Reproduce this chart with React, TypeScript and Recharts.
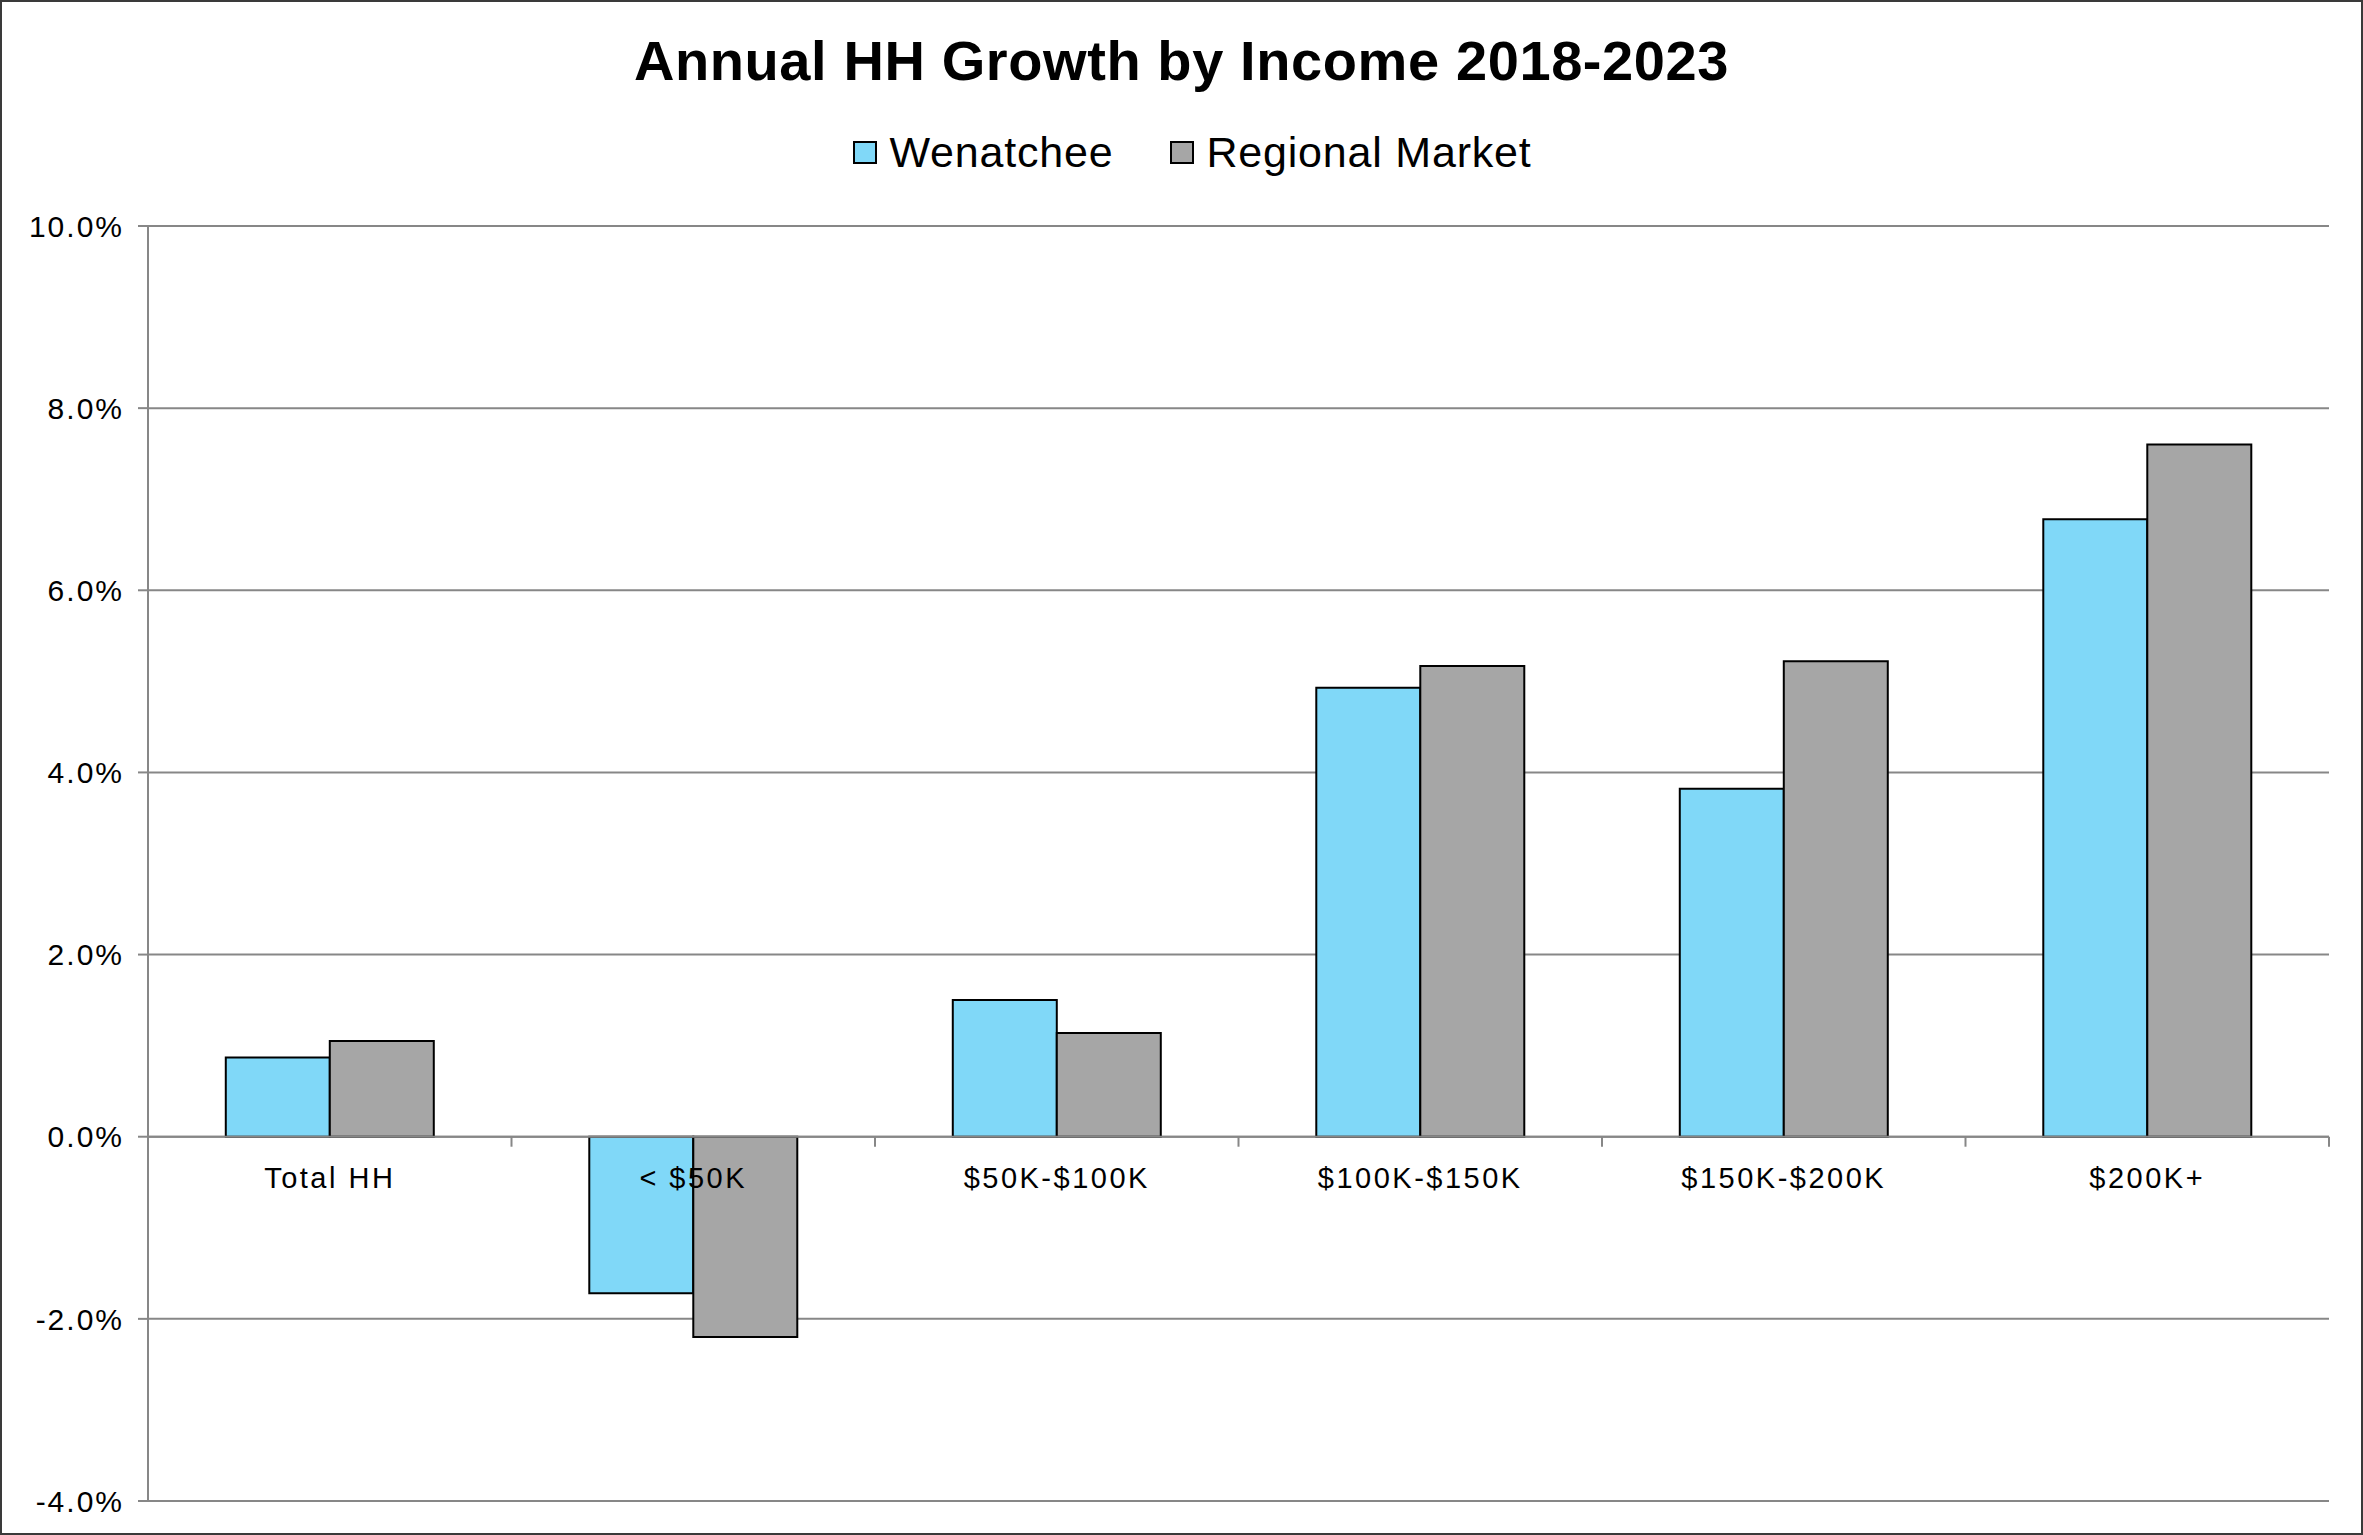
import { Bar, BarChart, CartesianGrid, Legend, ReferenceDot, ReferenceLine, XAxis, YAxis } from "recharts"

const categories = ["Total HH", "< $50K", "$50K-$100K", "$100K-$150K", "$150K-$200K", "$200K+"]
const wenatchee = [0.87, -1.72, 1.5, 4.93, 3.82, 6.78]
const regionalMarket = [1.05, -2.2, 1.14, 5.17, 5.22, 7.6]
const seriesNames = ["Wenatchee", "Regional Market"]
const yTicks = [-4, -2, 0, 2, 4, 6, 8, 10]

const data = categories.map((name, i) => ({
  name,
  wenatchee: wenatchee[i],
  regional: regionalMarket[i],
}))

// band edges 1..n on a hidden numeric axis, for the little ticks under the zero line
const bandEdges = categories.map((_, i) => i + 1)

const FONT = "'Liberation Sans', Arial, Helvetica, sans-serif"
const GRID = "#878787"
const W = 2363
const H = 1535

function CategoryLabel(name: string) {
  return (props: any) => (
    <text
      x={props.cx}
      y={props.cy + 41}
      textAnchor="middle"
      dominantBaseline="central"
      fontSize={29}
      letterSpacing={2.5}
      fill="#000"
      fontFamily={FONT}
    >
      {name}
    </text>
  )
}

function EdgeTick(props: any) {
  return <line x1={props.cx} x2={props.cx} y1={props.cy} y2={props.cy + 10} stroke={GRID} strokeWidth={2} />
}

function LegendContent({ payload }: any) {
  const items = (payload ?? [])
    .filter((p: any) => seriesNames.includes(p.value))
    .sort((a: any, b: any) => seriesNames.indexOf(a.value) - seriesNames.indexOf(b.value))
  return (
    <div style={{ display: "flex", justifyContent: "center", paddingLeft: 22, boxSizing: "border-box", width: "100%" }}>
      {items.map((p: any, i: number) => (
        <div key={p.value} style={{ display: "flex", alignItems: "center", marginLeft: i ? 57 : 0 }}>
          <span style={{ display: "inline-block", width: 20, height: 19, border: "2px solid #000", background: p.color, marginRight: 12 }} />
          <span style={{ fontSize: 43, lineHeight: "43px", color: "#000", letterSpacing: 0.8 }}>{p.value}</span>
        </div>
      ))}
    </div>
  )
}

export default function App() {
  return (
    <div style={{ position: "relative", width: W, height: H, background: "#fff", fontFamily: FONT }}>
      <style>{"body{margin:0}"}</style>
      <div
        style={{
          position: "absolute",
          top: 33,
          left: 0,
          width: W,
          textAlign: "center",
          fontSize: 56,
          lineHeight: "56px",
          fontWeight: "bold",
          color: "#000",
          letterSpacing: 0.6,
        }}
      >
        Annual HH Growth by Income 2018-2023
      </div>
      <BarChart
        width={W}
        height={H}
        data={data}
        margin={{ top: 226, right: 34, bottom: 34, left: 0 }}
        barCategoryGap="21.4%"
        barGap={0}
        style={{ fontFamily: FONT }}
      >
        <CartesianGrid vertical={false} stroke={GRID} strokeWidth={2} />
        <XAxis dataKey="name" hide />
        <XAxis
          xAxisId="edges"
          type="number"
          dataKey={(d: any) => categories.indexOf(d.name)}
          domain={[0, categories.length]}
          allowDataOverflow
          hide
        />
        <YAxis
          domain={[-4, 10]}
          ticks={yTicks}
          interval={0}
          width={148}
          allowDataOverflow
          tickFormatter={(v: number) => `${v.toFixed(1)}%`}
          axisLine={{ stroke: GRID, strokeWidth: 2 }}
          tickLine={{ stroke: GRID, strokeWidth: 2 }}
          tickSize={10}
          tickMargin={14}
          tick={{ fill: "#000", fontSize: 30, letterSpacing: 2 }}
        />
        <Legend
          verticalAlign="top"
          content={LegendContent}
          wrapperStyle={{ top: 131, left: 0, width: W, height: 0 }}
        />
        <ReferenceLine y={0} stroke={GRID} strokeWidth={2} />
        <Bar dataKey="wenatchee" name="Wenatchee" fill="#80D8F8" stroke="#000" strokeWidth={2} isAnimationActive={false} />
        <Bar dataKey="regional" name="Regional Market" fill="#A6A6A6" stroke="#000" strokeWidth={2} isAnimationActive={false} />
        {categories.map((name) => (
          <ReferenceDot key={name} x={name} y={0} shape={CategoryLabel(name)} />
        ))}
        {bandEdges.map((edge) => (
          <ReferenceDot key={edge} xAxisId="edges" x={edge} y={0} shape={EdgeTick} />
        ))}
      </BarChart>
      <div
        style={{
          position: "absolute",
          top: 0,
          left: 0,
          width: W,
          height: H,
          border: "2px solid #3a3a3a",
          boxSizing: "border-box",
          pointerEvents: "none",
        }}
      />
    </div>
  )
}
